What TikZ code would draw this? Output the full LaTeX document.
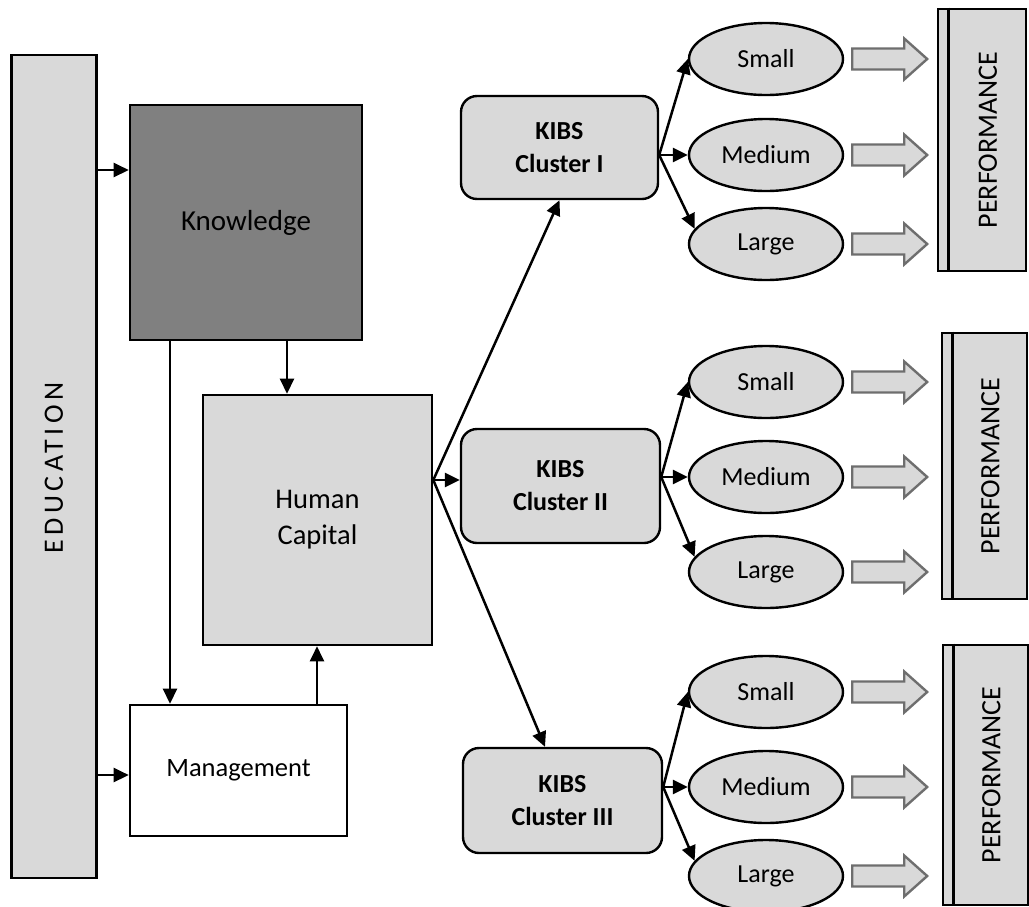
\documentclass[tikz,border=0pt]{standalone}
\usepackage{fontspec}
\setmainfont{Carlito}
\usetikzlibrary{arrows.meta,calc,shapes.geometric}

\definecolor{lgray}{HTML}{D9D9D9}
\definecolor{dgray}{HTML}{808080}
\definecolor{agray}{HTML}{6E6E6E}

% hollow block arrow placed to the right of a size ellipse
\newcommand\blockarr[1]{%
  \draw[barrow] ($(#1.east)+(8,-10.5)$) -- ++(52,0) -- ++(0,-10) -- ++(23,20.5)
    -- ++(-23,20.5) -- ++(0,-10) -- ++(-52,0) -- cycle;}

\begin{document}
\begin{tikzpicture}[x=1pt,y=-1pt,
  box/.style={draw, line width=2.6pt, inner sep=0pt},
  kibs/.style={box, line width=2.4pt, rounded corners=16pt, fill=lgray,
    align=center, font=\fontsize{26}{33}\selectfont\bfseries},
  size/.style={ellipse, draw, line width=2.4pt, fill=lgray, inner sep=0pt,
    minimum width=154pt, minimum height=72pt, font=\fontsize{26}{30}\selectfont},
  arr/.style={line width=2.5pt, -{Triangle[length=15pt,width=14pt]}},
  barrow/.style={draw=agray, fill=lgray, line width=2.4pt},
  perf/.style={box, fill=lgray},
  vtext/.style={rotate=90, inner sep=0pt, font=\fontsize{28}{34}\selectfont},
]
\useasboundingbox (0,0) rectangle (1029,906);

% left column
\node[box, fill=lgray, minimum width=85pt, minimum height=823pt] (edu) at (54,466.5) {};
\node[vtext] (edutext) at (54,468)
  {\addfontfeature{LetterSpace=16}EDUCATION};

\node[box, fill=dgray, minimum width=232pt, minimum height=235pt,
  font=\fontsize{29}{35}\selectfont] (know) at (246,222.5) {Knowledge};
\node[box, fill=lgray, minimum width=229pt, minimum height=250pt, align=center,
  font=\fontsize{28.5}{36}\selectfont] (hc) at (317.5,520) {Human\\Capital};
\node[box, fill=white, minimum width=217pt, minimum height=131pt,
  font=\fontsize{26.5}{32}\selectfont] (mg) at (238.5,770.5) {Management};

% reference lines for the connectors
\coordinate (r170) at (0,170);
\coordinate (r775) at (0,775);
\coordinate (r480) at (0,480);
\coordinate (xk) at (287,0);
\coordinate (xl) at (170,0);
\coordinate (xm) at (317,0);
\coordinate (xc) at (545,0);

\draw[arr] (edu.east |- r170) -- (know.west |- r170);
\draw[arr] (edu.east |- r775) -- (mg.west |- r775);
\draw[arr] (know.south -| xk) -- (hc.north -| xk);
\draw[arr] (know.south -| xl) -- (mg.north -| xl);
\draw[arr] (mg.north -| xm) -- (hc.south -| xm);

% clusters
\node[kibs, minimum width=197pt, minimum height=103pt] (c1) at (559.5,147.5) {KIBS\\Cluster I};
\node[kibs, minimum width=199pt, minimum height=114pt] (c2) at (560.5,486) {KIBS\\Cluster II};
\node[kibs, minimum width=199pt, minimum height=105pt] (c3) at (562.5,800.5) {KIBS\\Cluster III};

\coordinate (hj) at (hc.east |- r480);
\draw[arr] (hj) -- (c1.south);
\draw[arr] (hj) -- (c2.west |- hj);
\draw[arr] (hj) -- (c3.north -| xc);

% firm sizes
\node[size] (s1) at (766,59) {Small};
\node[size] (m1) at (766,155) {Medium};
\node[size] (l1) at (766,244) {Large};
\node[size] (s2) at (766,382) {Small};
\node[size] (m2) at (766,477) {Medium};
\node[size] (l2) at (766,572) {Large};
\node[size] (s3) at (766,692) {Small};
\node[size] (m3) at (766,787) {Medium};
\node[size] (l3) at (766,876) {Large};

\foreach \c/\s/\m/\l in {c1/s1/m1/l1, c2/s2/m2/l2, c3/s3/m3/l3}{
  \coordinate (j\c) at (\c.east |- \m);
  \draw[arr] (j\c) -- (\s.west);
  \draw[arr] (j\c) -- (\m.west);
  \draw[arr] (j\c) -- (\l.168);
  \blockarr{\s}
  \blockarr{\m}
  \blockarr{\l}
}

% performance panels
\node[perf, minimum width=88pt, minimum height=262pt] (p1) at (982,140) {};
\node[perf, minimum width=85pt, minimum height=266pt] (p2) at (984.5,466) {};
\node[perf, minimum width=85pt, minimum height=260pt] (p3) at (985.5,775) {};
\foreach \p in {p1,p2,p3}{
  \draw[line width=2.6pt] ([xshift=12pt]\p.north west) -- ([xshift=12pt]\p.south west);
  \node[vtext] (\p text) at ($(\p.center)+(6,0)$) {PERFORMANCE};
}
\end{tikzpicture}
\end{document}
